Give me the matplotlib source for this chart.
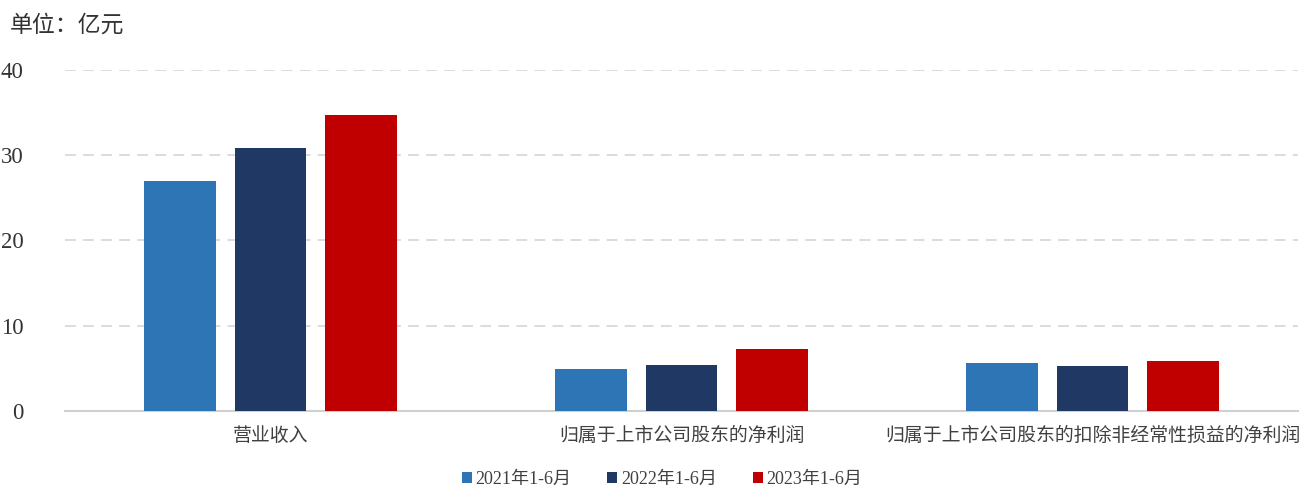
import matplotlib

matplotlib.use("Agg")
import matplotlib.pyplot as plt
import numpy as np

plt.rcParams["font.family"] = ["Liberation Serif", "Noto Sans CJK SC", "DejaVu Sans"]

categories = ["营业收入", "归属于上市公司股东的净利润", "归属于上市公司股东的扣除非经常性损益的净利润"]
series_names = ["2021年1-6月", "2022年1-6月", "2023年1-6月"]
values_2021 = [26.98, 4.95, 5.63]
values_2022 = [30.85, 5.40, 5.30]
values_2023 = [34.72, 7.27, 5.88]
colors = ["#2E75B6", "#1F3864", "#C00000"]

fig = plt.figure(figsize=(13.03, 4.86), dpi=100)
ax = fig.add_axes([65 / 1303, 1 - 411 / 486, 1233 / 1303, 341 / 486])

x = np.arange(len(categories))
width = 0.175
step = 0.221
for i, (name, vals) in enumerate(zip(series_names, [values_2021, values_2022, values_2023])):
    ax.bar(x + (i - 1) * step, vals, width, color=colors[i], label=name, zorder=3)

ax.set_xlim(-0.5, len(categories) - 0.5)
ax.set_ylim(0, 40)
ax.set_yticks([0, 10, 20, 30, 40])
ax.yaxis.grid(True, linestyle=(0, (6, 4)), color="#D9D9D9", linewidth=1.3, zorder=0)
ax.set_xticks(x)
ax.set_xticklabels(categories, fontsize=13.6, color="#404040",
                   family=["Noto Sans CJK SC"])
ax.tick_params(axis="both", length=0)
ax.tick_params(axis="y", labelsize=16.5, labelcolor="#333333", pad=30)
ax.tick_params(axis="x", pad=10)
for s in ["top", "right", "left"]:
    ax.spines[s].set_visible(False)
ax.spines["bottom"].set_color("#D0D0D0")
ax.spines["bottom"].set_linewidth(1.5)

fig.text(10 / 1303, 1 - 25 / 486, "单位：亿元", fontsize=16.5, color="#333333",
         va="center", ha="left", family=["Noto Sans CJK SC"])

leg = fig.legend(loc="center", bbox_to_anchor=(662 / 1303, 1 - 479 / 486), ncol=3,
                 frameon=False, handlelength=0.55, handleheight=0.55, handletextpad=0.2,
                 columnspacing=2.0, prop={"family": ["Liberation Serif", "Noto Sans CJK SC"], "size": 13})
for t in leg.get_texts():
    t.set_color("#404040")

fig.savefig("out.png", dpi=100)
